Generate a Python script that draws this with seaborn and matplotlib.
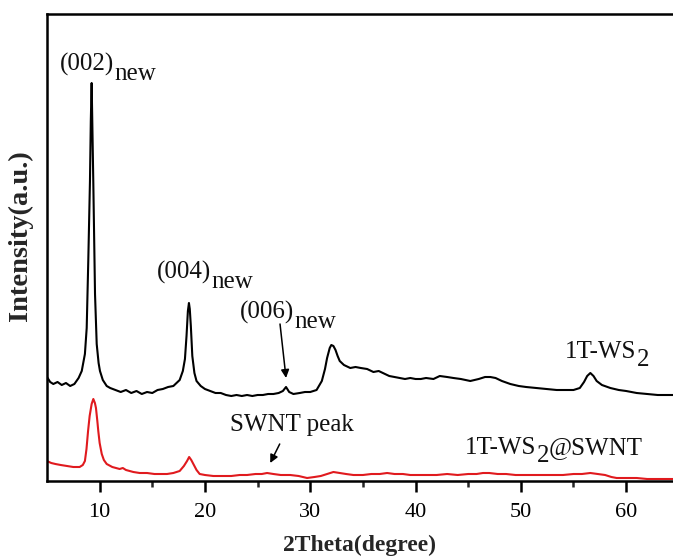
import numpy as np
import pandas as pd
import matplotlib
matplotlib.use("Agg")
import matplotlib.pyplot as plt
import seaborn as sns

# ---- data ----
two_theta_ws2 = [5.0, 5.3, 5.6, 6.0, 6.4, 6.8, 7.2, 7.6, 8.0, 8.3, 8.6, 8.77, 8.92, 9.08, 9.16, 9.24,
                 9.32, 9.40, 9.56, 9.72, 9.9, 10.03, 10.3, 10.67, 11.0, 11.5, 12.0, 12.5, 13.0, 13.5,
                 14.0, 14.5, 15.0, 15.5, 16.0, 16.5, 17.0, 17.3, 17.6, 17.9, 18.1, 18.25, 18.38, 18.48,
                 18.56, 18.66, 18.8, 19.0, 19.2, 19.6, 20.0, 20.5, 21.0, 21.5, 22.0, 22.5, 23.0, 23.5,
                 24.0, 24.5, 25.0, 25.5, 26.0, 26.5, 27.0, 27.4, 27.7, 28.0, 28.4, 29.0, 29.5, 30.0,
                 30.6, 31.1, 31.4, 31.6, 31.85, 32.0, 32.2, 32.4, 32.6, 32.8, 33.2, 33.8, 34.3, 34.8,
                 35.4, 36.0, 36.5, 36.9, 37.5, 38.0, 38.5, 39.0, 39.5, 40.0, 40.5, 41.0, 41.7, 42.3,
                 43.0, 43.6, 44.3, 45.2, 46.0, 46.6, 47.1, 47.6, 48.2, 49.0, 49.8, 50.5, 51.5, 52.5,
                 53.4, 54.4, 55.0, 55.6, 56.0, 56.3, 56.6, 56.9, 57.2, 57.7, 58.5, 59.3, 60.0, 61.0,
                 62.0, 63.0, 64.0, 64.5]
intensity_ws2 = [104, 99, 97, 99, 96, 98, 95, 97, 103, 110, 127, 153, 220, 300, 360, 398,
                 350, 297, 187, 137, 118, 110, 101, 95, 93, 91, 89, 91, 88, 90,
                 87, 89, 88, 91, 92, 94, 95, 98, 101, 110, 122, 145, 170, 178,
                 172, 155, 125, 108, 100, 95, 92, 90, 88, 88, 86, 85, 86, 85,
                 86, 85, 86, 86, 87, 87, 88, 90, 94, 89, 87, 88, 89, 89,
                 91, 100, 112, 123, 133, 136, 135, 131, 125, 120, 116, 113, 114, 113,
                 112, 109, 110, 108, 105, 104, 103, 102, 103, 102, 102, 103, 102, 105,
                 104, 103, 102, 100, 102, 104, 104, 103, 100, 97, 95, 94, 93, 92,
                 91, 91, 91, 93, 99, 105, 108, 105, 100, 96, 93, 91, 90, 88,
                 87, 86, 86, 86]

two_theta_swnt = [5.0, 5.4, 5.8, 6.3, 6.9, 7.5, 8.1, 8.4, 8.6, 8.75, 8.9, 9.05, 9.24, 9.4, 9.55,
                  9.65, 9.78, 9.87, 10.0, 10.2, 10.4, 10.67, 11.2, 11.9, 12.2, 12.5, 13.2, 13.8,
                  14.5, 15.2, 15.8, 16.4, 17.0, 17.6, 18.0, 18.3, 18.5, 18.7, 18.9, 19.2, 19.5,
                  20.0, 20.8, 21.7, 22.5, 23.3, 24.0, 24.8, 25.4, 25.9, 26.5, 27.2, 28.1, 28.9,
                  29.7, 30.4, 31.0, 31.6, 32.2, 32.8, 33.4, 34.1, 35.0, 35.8, 36.6, 37.3, 38.0,
                  38.8, 39.5, 40.1, 41.0, 42.0, 43.0, 44.0, 45.0, 45.8, 46.4, 47.0, 47.8, 48.6,
                  49.5, 50.3, 51.2, 52.0, 53.0, 54.0, 55.0, 55.8, 56.6, 57.3, 58.0, 58.6, 59.1,
                  60.0, 61.0, 62.0, 63.0, 64.0, 64.5]
intensity_swnt = [20, 18, 17, 16, 15, 14, 14, 16, 20, 32, 50, 65, 77, 82, 78,
                  73, 60, 50, 38, 27, 21, 17, 14, 12, 13, 11, 9, 8,
                  8, 7, 7, 7, 8, 10, 15, 20, 24, 21, 17, 11, 7,
                  6, 5, 5, 5, 6, 6, 7, 7, 8, 7, 6, 6, 5,
                  3, 4, 5, 7, 9, 8, 7, 6, 6, 7, 7, 8, 7,
                  7, 6, 6, 6, 6, 7, 6, 7, 7, 8, 8, 7, 7,
                  6, 6, 6, 6, 6, 6, 7, 7, 8, 7, 6, 4, 3,
                  3, 3, 2, 2, 2, 2]

sample_names = ["1T-WS2", "1T-WS2@SWNT"]
line_colors = ["#000000", "#e01a1e"]
x_ticks = [10, 20, 30, 40, 50, 60]

df = pd.concat([
    pd.DataFrame({"two_theta": two_theta_ws2, "intensity": intensity_ws2, "sample": sample_names[0]}),
    pd.DataFrame({"two_theta": two_theta_swnt, "intensity": intensity_swnt, "sample": sample_names[1]}),
], ignore_index=True)

# ---- style ----
sns.set_style("ticks")
plt.rcParams["font.family"] = ["Liberation Serif", "DejaVu Serif"]
plt.rcParams["mathtext.fontset"] = "custom"
plt.rcParams["mathtext.rm"] = "Liberation Serif"

fig = plt.figure(figsize=(6.73, 5.59), dpi=100)
ax = fig.add_axes([47 / 673, 78 / 559, 626 / 673, 467 / 559])

sns.lineplot(data=df, x="two_theta", y="intensity", hue="sample",
             palette=dict(zip(sample_names, line_colors)), estimator=None,
             linewidth=1.5, legend=False, ax=ax)

ax.set_xlim(5, 64.45)
ax.set_ylim(0, 467)
ax.set_xticks(x_ticks)
ax.set_xticks(np.arange(15, 65, 10), minor=True)
ax.set_yticks([])
ax.tick_params(axis="x", which="major", direction="out", length=8, width=1.8,
               labelsize=16, pad=8, colors="black")
ax.tick_params(axis="x", which="minor", direction="out", length=4.5, width=1.8)
for side in ["left", "top", "bottom"]:
    ax.spines[side].set_linewidth(1.8)
    ax.spines[side].set_color("black")
ax.spines["right"].set_visible(False)

ax.set_xlabel("2Theta(degree)", fontsize=17, fontweight="bold", labelpad=9)
ax.set_ylabel("Intensity(a.u.)", fontsize=20.5, fontweight="bold")
ax.yaxis.set_label_coords(-0.023, 0.525)


def sub_label(x, y, parts, size=18):
    t = ax.text(x, y, parts[0][0], fontsize=size, ha="left", va="baseline",
                color="#111111")
    prev = t
    for txt, dy in parts[1:]:
        prev = ax.annotate(txt, xy=(1, 0), xycoords=prev, xytext=(0, dy),
                           textcoords="offset points", ha="left", va="bottom",
                           fontsize=size, color="#111111")
    return t


sub_label(6.23, 410, [("(002)", 0), ("new", -6)])
sub_label(15.45, 202, [("(004)", 0), ("new", -6)])
sub_label(23.33, 162, [("(006)", 0), ("new", -6)])
sub_label(54.2, 123, [("1T-WS", 0), ("2", -6)])
sub_label(44.7, 27, [("1T-WS", 0), ("2", -6), ("@SWNT", 6)])
ax.text(22.38, 50, "SWNT peak", fontsize=18, ha="left", va="baseline", color="#111111")

arrow = dict(arrowstyle="-|>", color="black", lw=1.1, mutation_scale=12,
             shrinkA=0, shrinkB=0)
ax.annotate("", xy=(27.7, 103), xytext=(27.13, 157), arrowprops=arrow)
ax.annotate("", xy=(26.2, 18), xytext=(27.1, 37), arrowprops=arrow)

fig.savefig("out.png", dpi=100)
